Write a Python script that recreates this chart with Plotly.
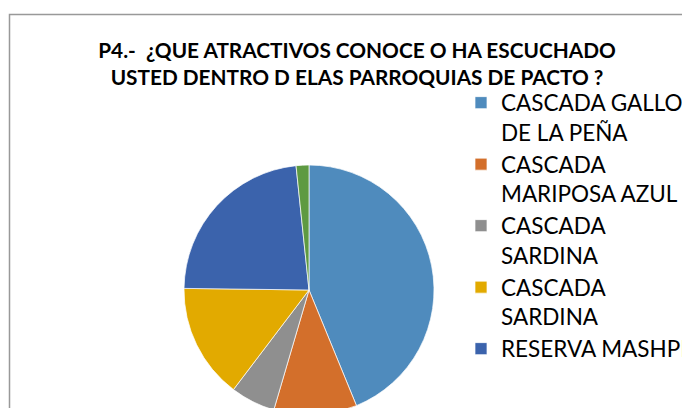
import plotly.graph_objects as go

labels = [
    "CASCADA GALLO<br>DE LA PEÑA",
    "CASCADA<br>MARIPOSA AZUL",
    "CASCADA<br>SARDINA",
    "CASCADA<br>SARDINA ",
    "RESERVA MASHPI",
    "OTROS",
]
values = [53, 13, 7, 18, 28, 2]
colors = ["#4F8BBD", "#D36F2B", "#8F8F8F", "#E2AA00", "#3B63AC", "#5E9A42"]

title_text = "P4.-  ¿QUE ATRACTIVOS CONOCE O HA ESCUCHADO<br>USTED DENTRO D ELAS PARROQUIAS DE PACTO ?"

# page has an 8px body margin; the figure is larger than the window and is cropped
W, H = 682, 480

fig = go.Figure(go.Pie(
    labels=labels,
    values=values,
    sort=False,
    direction="clockwise",
    rotation=0,
    textinfo="none",
    hoverinfo="label+percent",
    marker=dict(colors=colors, line=dict(color="white", width=0.7)),
    domain=dict(x=[176 / W, 426 / W], y=[1 - 407 / H, 1 - 157 / H]),
))

fig.update_layout(
    width=W, height=H,
    margin=dict(l=0, r=0, t=0, b=0, autoexpand=False),
    paper_bgcolor="white",
    plot_bgcolor="white",
    font=dict(family="Lato, Calibri, sans-serif", color="#000000"),
    title=dict(
        text="<b>" + title_text + "</b>",
        x=349 / W, xanchor="center",
        y=1 - 50 / H, yanchor="top",
        font=dict(size=20.8, family="Lato, sans-serif", color="#000000"),
    ),
    showlegend=True,
    legend=dict(
        x=453 / W, xanchor="left",
        y=1 - 73.5 / H, yanchor="top",
        valign="top",
        font=dict(size=22.5, family="Lato, sans-serif", color="#000000"),
        bgcolor="rgba(0,0,0,0)",
        itemwidth=30,
        maxheight=285,
    ),
    shapes=[dict(
        type="rect", xref="paper", yref="paper",
        x0=1.5 / W, x1=1.05, y0=-0.05, y1=1 - 6.5 / H,
        line=dict(color="#999999", width=1.5),
        fillcolor="rgba(0,0,0,0)", layer="below",
    )],
)

fig.write_html("out.html")
